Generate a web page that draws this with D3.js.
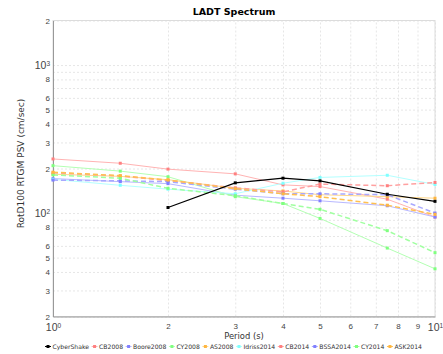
<!DOCTYPE html>
<html>
<head>
<meta charset="utf-8">
<script src="https://cdn.jsdelivr.net/npm/d3@7"></script>
<style>
  body { margin: 0; background: #fff; }
  svg { display: block; font-family: "DejaVu Sans", sans-serif; }
</style>
</head>
<body>
<svg id="chart" width="443" height="354"></svg>
<script>
// periods (s) shared by the GMPE curves
const periods = [1, 1.5, 2, 3, 4, 5, 7.5, 10];
const cyberShakePeriods = [2, 3, 4, 5, 7.5, 10];

// RotD100 RTGM PSV values (cm/sec)
const cyberShake = [109, 160, 172, 165, 134, 120];
const cb2008 = [232, 217, 198, 184, 155, 151, 124, 94];
const boore2008 = [171, 163, 158, 132, 126, 121, 112, 94];
const cy2008 = [209, 192, 176, 129, 116, 92, 58, 42];
const as2008 = [183, 177, 168, 147, 141, 133, 129, 126];
const idriss2014 = [169, 154, 145, 135, 159, 174, 180, 156];
const cb2014 = [187, 178, 166, 148, 139, 157, 153, 161];
const bssa2014 = [167, 165, 163, 145, 135, 135, 133, 100];
const cy2014 = [181, 172, 147, 131, 116, 106, 76, 54];
const ask2014 = [189, 179, 167, 146, 135, 129, 113, 98];

const xGrid = [1, 2, 3, 4, 5, 6, 7, 8, 9, 10];
const xTicks = [1, 2, 3, 4, 5, 6, 7, 8, 9, 10];
const yGrid = [20, 30, 40, 50, 60, 70, 80, 90, 100, 200, 300, 400, 500, 600, 700, 800, 900, 1000, 2000];
const yTicks = [20, 30, 40, 50, 60, 80, 100, 200, 300, 400, 500, 600, 800, 1000, 2000];

const series = [
    { name: "CyberShake", p: cyberShakePeriods, v: cyberShake, line: "#000", mark: "#000", dash: false },
    { name: "CB2008", p: periods, v: cb2008, line: "#ffb3b3", mark: "#ff8080", dash: false },
    { name: "Boore2008", p: periods, v: boore2008, line: "#b8b8ff", mark: "#8080ff", dash: false },
    { name: "CY2008", p: periods, v: cy2008, line: "#b3ffb3", mark: "#80ff80", dash: false },
    { name: "AS2008", p: periods, v: as2008, line: "#ffd88a", mark: "#ffb640", dash: false },
    { name: "Idriss2014", p: periods, v: idriss2014, line: "#b3ffff", mark: "#80ffff", dash: false },
    { name: "CB2014", p: periods, v: cb2014, line: "#ffa0a0", mark: "#ff8080", dash: true },
    { name: "BSSA2014", p: periods, v: bssa2014, line: "#a8a8ff", mark: "#8080ff", dash: true },
    { name: "CY2014", p: periods, v: cy2014, line: "#a0ffa0", mark: "#80ff80", dash: true },
    { name: "ASK2014", p: periods, v: ask2014, line: "#ffc050", mark: "#ffb640", dash: true }
];

const plotL = 53, plotR = 435, plotT = 20.5, plotB = 316.5;

const svg = d3.select("#chart");

const x = d3.scaleLog().domain([1, 10]).range([plotL, plotR]);
const y = d3.scaleLog().domain([20, 2000]).range([plotB, plotT]);

// grid
svg.append("g")
    .attr("transform", `translate(0,${plotB})`)
    .call(d3.axisBottom(x).tickValues(xGrid).tickSize(-(plotB - plotT)).tickFormat(""))
    .call(g => g.select(".domain").remove())
    .selectAll("line")
    .attr("stroke", "#e6e6e6")
    .attr("stroke-dasharray", "2,2");

svg.append("g")
    .attr("transform", `translate(${plotL},0)`)
    .call(d3.axisLeft(y).tickValues(yGrid).tickSize(-(plotR - plotL)).tickFormat(""))
    .call(g => g.select(".domain").remove())
    .selectAll("line")
    .attr("stroke", "#e6e6e6")
    .attr("stroke-dasharray", "2,2");

// frame
svg.append("rect")
    .attr("x", plotL).attr("y", plotT)
    .attr("width", plotR - plotL).attr("height", plotB - plotT)
    .attr("fill", "none").attr("stroke", "#dcdcdc");

// tick labels with 10^n style
function sup(sel) {
    sel.each(function (d) {
        const t = d3.select(this);
        const lg = Math.log10(d);
        t.text(null);
        if (Number.isInteger(lg)) {
            t.attr("font-size", 10.5);
            t.append("tspan").text("10");
            t.append("tspan").attr("font-size", 6.5).attr("dy", "-0.5em").text(lg);
        } else {
            t.attr("font-size", 8);
            t.text(String(d).charAt(0));
        }
    });
}

const yAxis = svg.append("g")
    .attr("transform", `translate(${plotL},0)`)
    .call(d3.axisLeft(y).tickValues(yTicks).tickSize(0).tickPadding(3));
yAxis.select(".domain").attr("stroke", "#999");
yAxis.selectAll("text").attr("fill", "#444").call(sup);

const xAxis = svg.append("g")
    .attr("transform", `translate(0,${plotB})`)
    .call(d3.axisBottom(x).tickValues(xTicks).tickSize(0).tickPadding(7));
xAxis.select(".domain").attr("stroke", "#999");
xAxis.selectAll("text").attr("fill", "#444").call(sup);

// lines
const line = d3.line().x(d => x(d[0])).y(d => y(d[1]));

const order = series.slice(1).concat([series[0]]);
order.forEach(s => {
    const pts = s.p.map((p, i) => [p, s.v[i]]);
    svg.append("path")
        .datum(pts)
        .attr("fill", "none")
        .attr("stroke", s.line)
        .attr("stroke-width", s.dash ? 1.5 : (s.name === "CyberShake" ? 1.2 : 1))
        .attr("stroke-dasharray", s.dash ? "5,3" : null)
        .attr("d", line);
    svg.append("g").selectAll("rect")
        .data(pts)
        .join("rect")
        .attr("x", d => x(d[0]) - 1.5)
        .attr("y", d => y(d[1]) - 1.5)
        .attr("width", 3).attr("height", 3)
        .attr("fill", s.mark);
});

// title and axis labels
svg.append("text")
    .attr("x", 234).attr("y", 14.5)
    .attr("text-anchor", "middle")
    .attr("font-size", 9.5).attr("font-weight", "bold")
    .text("LADT Spectrum");

svg.append("text")
    .attr("x", (plotL + plotR) / 2).attr("y", 338.5)
    .attr("text-anchor", "middle")
    .attr("font-size", 8.4).attr("fill", "#333")
    .text("Period (s)");

svg.append("text")
    .attr("transform", `translate(24,${(plotT + plotB) / 2 - 5}) rotate(-90)`)
    .attr("text-anchor", "middle")
    .attr("font-size", 9).attr("fill", "#333")
    .text("RotD100 RTGM PSV (cm/sec)");

// legend, spread to span x 45..422
const legend = svg.append("g").attr("font-size", 6.1).attr("fill", "#333");
const legendItems = series.map(s => {
    const g = legend.append("g");
    g.append("line").attr("x1", 0).attr("x2", 6).attr("y1", -2).attr("y2", -2)
        .attr("stroke", s.line).attr("stroke-width", 1);
    g.append("rect").attr("x", 1.5).attr("y", -3.5).attr("width", 3).attr("height", 3).attr("fill", s.mark);
    const t = g.append("text").attr("x", 7.5).attr("y", 0).text(s.name);
    return { g, w: 7.5 + t.node().getComputedTextLength() };
});
const sumW = d3.sum(legendItems, d => d.w);
const gap = (377 - sumW) / (legendItems.length - 1);
let lx = 45;
legendItems.forEach(it => {
    it.g.attr("transform", `translate(${lx},348.5)`);
    lx += it.w + gap;
});
</script>
</body>
</html>
